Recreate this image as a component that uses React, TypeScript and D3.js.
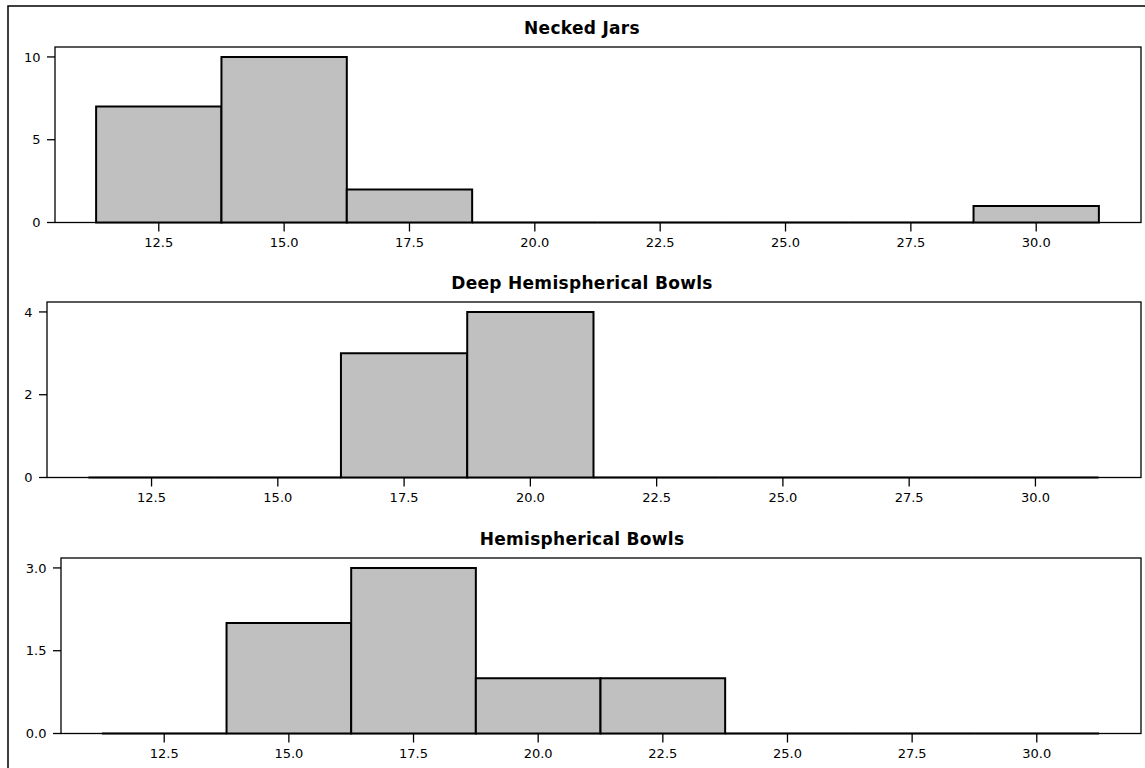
import React from "react";
import * as d3 from "d3";

// Bin edges (cm) shared by all three histograms
const binEdges = [11.25, 13.75, 16.25, 18.75, 21.25, 23.75, 26.25, 28.75, 31.25];
const xTicks = [12.5, 15.0, 17.5, 20.0, 22.5, 25.0, 27.5, 30.0];

const titles = ["Necked Jars", "Deep Hemispherical Bowls", "Hemispherical Bowls"];
const neckedJars = [7, 10, 2, 0, 0, 0, 0, 1];
const deepHemisphericalBowls = [0, 0, 3, 4, 0, 0, 0, 0];
const hemisphericalBowls = [0, 2, 3, 1, 1, 0, 0, 0];

const yTicksNecked = [0, 5, 10];
const yTicksDeep = [0, 2, 4];
const yTicksHemi = [0, 1.5, 3.0];

const W = 1145;
const H = 768;
const RIGHT = 1141;
const X_DOMAIN: [number, number] = [10.43, 32.09];

const panels = [
  { title: titles[0], counts: neckedJars, yTicks: yTicksNecked, fmt: d3.format("d"), left: 55, top: 47 },
  { title: titles[1], counts: deepHemisphericalBowls, yTicks: yTicksDeep, fmt: d3.format("d"), left: 47, top: 302 },
  { title: titles[2], counts: hemisphericalBowls, yTicks: yTicksHemi, fmt: d3.format(".1f"), left: 61, top: 558 },
];
const PH = 175.5;

const tickFont = "'DejaVu Sans', Verdana, sans-serif";

function Panel({ p }: { p: (typeof panels)[number] }) {
  const x = d3.scaleLinear().domain(X_DOMAIN).range([p.left, RIGHT]);
  const maxC = d3.max(p.counts) as number;
  const y = d3.scaleLinear().domain([0, maxC * 1.06]).range([p.top + PH, p.top]);
  const bottom = p.top + PH;
  const fmtX = d3.format(".1f");
  return (
    <g>
      <text
        x={582}
        y={p.top - 13}
        textAnchor="middle"
        fontFamily={tickFont}
        fontWeight="bold"
        fontSize={17}
        letterSpacing={0.3}
        fill="#000"
      >
        {p.title}
      </text>
      {/* plot frame */}
      <rect x={p.left} y={p.top} width={RIGHT - p.left} height={PH} fill="none" stroke="#000" strokeWidth={1.3} />
      {/* bars */}
      {p.counts.map((c, i) => {
        const x0 = x(binEdges[i]);
        const x1 = x(binEdges[i + 1]);
        const y0 = y(0);
        const y1 = y(c);
        const d = c > 0 ? `M${x0},${y0}V${y1}H${x1}V${y0}Z` : `M${x0},${y0}H${x1}`;
        return <path key={i} d={d} fill="#c0c0c0" stroke="#000" strokeWidth={2} />;
      })}
      {/* y axis ticks */}
      {p.yTicks.map((t) => (
        <g key={t}>
          <line x1={p.left - 8} x2={p.left} y1={y(t)} y2={y(t)} stroke="#000" strokeWidth={1.3} />
          <text
            x={p.left - 14.5}
            y={y(t)}
            dy="0.36em"
            textAnchor="end"
            fontFamily={tickFont}
            fontSize={13}
            fill="#000"
          >
            {p.fmt(t)}
          </text>
        </g>
      ))}
      {/* x axis ticks */}
      {xTicks.map((t) => (
        <g key={t}>
          <line x1={x(t)} x2={x(t)} y1={bottom} y2={bottom + 9} stroke="#000" strokeWidth={1.3} />
          <text x={x(t)} y={bottom + 24.5} textAnchor="middle" fontFamily={tickFont} fontSize={13} fill="#000">
            {fmtX(t)}
          </text>
        </g>
      ))}
    </g>
  );
}

export default function App() {
  return (
    <svg
      width={W}
      height={H}
      style={{ position: "absolute", left: 0, top: 0, background: "#fff" }}
    >
      <rect x={0} y={0} width={W} height={H} fill="#fff" />
      <rect x={8} y={6} width={1160} height={790} fill="none" stroke="#000" strokeWidth={1.5} />
      {panels.map((p) => (
        <Panel key={p.title} p={p} />
      ))}
    </svg>
  );
}
